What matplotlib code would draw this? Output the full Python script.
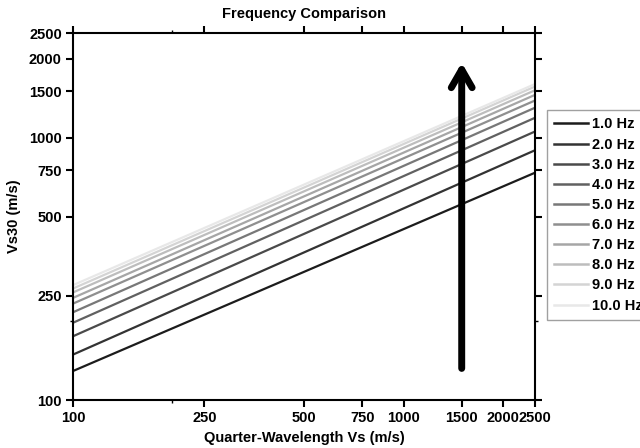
import matplotlib
matplotlib.use("Agg")
import matplotlib.pyplot as plt
from matplotlib.ticker import FixedLocator, FixedFormatter

plt.rcParams['font.family'] = ['Liberation Sans', 'DejaVu Sans']
plt.rcParams['font.weight'] = 'bold'

# quarter-wavelength Vs end points and the Vs30 read at each end, per frequency
vs_qwl = [100, 2500]
freqs = ["1.0 Hz", "2.0 Hz", "3.0 Hz", "4.0 Hz", "5.0 Hz",
         "6.0 Hz", "7.0 Hz", "8.0 Hz", "9.0 Hz", "10.0 Hz"]
vs30_start = [129, 149, 175, 197, 216, 233, 245, 257, 266, 274]
vs30_end = [735, 895, 1055, 1190, 1300, 1385, 1455, 1515, 1565, 1600]
greys = ["#1c1c1c", "#333333", "#4a4a4a", "#616161", "#787878",
         "#8f8f8f", "#a6a6a6", "#bdbdbd", "#d4d4d4", "#e8e8e8"]

ticks = [100, 250, 500, 750, 1000, 1500, 2000, 2500]
tick_labels = [str(t) for t in ticks]

# arrow along Vs = 1500
arrow_x = 1500
arrow_y = [132, 1930]

fs = 10.5

fig = plt.figure(figsize=(6.4, 4.48), dpi=100)
ax = fig.add_axes([0.114, 0.107, 0.722, 0.819])

for lab, y0, y1, c in zip(freqs, vs30_start, vs30_end, greys):
    ax.plot(vs_qwl, [y0, y1], color=c, lw=1.6, label=lab)

ax.annotate("", xy=(arrow_x, arrow_y[1]), xytext=(arrow_x, arrow_y[0]),
            arrowprops=dict(arrowstyle="->,head_length=1.3,head_width=0.75",
                            lw=5, color="black", capstyle="round",
                            shrinkA=0, shrinkB=0))

ax.set_xscale("log")
ax.set_yscale("log")
ax.set_xlim(100, 2500)
ax.set_ylim(100, 2500)

for axis in (ax.xaxis, ax.yaxis):
    axis.set_major_locator(FixedLocator(ticks))
    axis.set_major_formatter(FixedFormatter(tick_labels))
    axis.set_minor_locator(FixedLocator([200]))
    axis.set_minor_formatter(FixedFormatter([""]))

ax.tick_params(which="major", direction="out", length=5, width=1.5,
               labelsize=fs, top=True, right=True, pad=3)
ax.tick_params(which="minor", direction="out", length=2, width=1.0,
               top=True, right=True)
for s in ax.spines.values():
    s.set_linewidth(1.5)

ax.set_title("Frequency Comparison", fontsize=fs, fontweight="bold", pad=11)
ax.set_xlabel("Quarter-Wavelength Vs (m/s)", fontsize=fs, fontweight="bold", labelpad=4)
ax.set_ylabel("Vs30 (m/s)", fontsize=fs, fontweight="bold", labelpad=6)

leg = ax.legend(loc="upper left", bbox_to_anchor=(0.855, 0.754),
                bbox_transform=fig.transFigure, borderaxespad=0,
                fancybox=False, edgecolor="#888888", fontsize=fs,
                handlelength=2.3, labelspacing=0.42, handletextpad=0.25,
                borderpad=0.5)
for t in leg.get_texts():
    t.set_fontweight("bold")
for h in leg.get_lines():
    h.set_linewidth(1.8)

fig.savefig("out.png", dpi=100)
